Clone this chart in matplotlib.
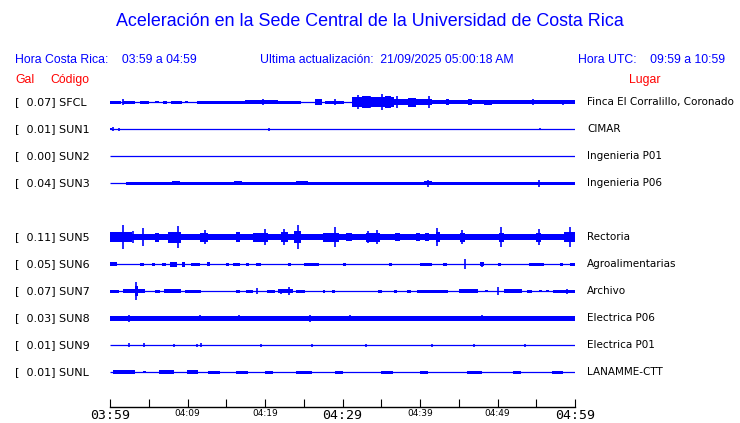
import matplotlib
matplotlib.use("Agg")
import matplotlib.pyplot as plt
import matplotlib.transforms as mtransforms
from matplotlib.patches import Rectangle

# ---- chart data (minutes after 03:59, half-amplitudes in pixels) ----
TITLE = "Aceleración en la Sede Central de la Universidad de Costa Rica"
HORA_CR = "03:59 a 04:59"
ACTUALIZACION = "21/09/2025 05:00:18 AM"
HORA_UTC = "09:59 a 10:59"

CODES = ["SFCL", "SUN1", "SUN2", "SUN3", None, "SUN5", "SUN6", "SUN7", "SUN8", "SUN9", "SUNL"]
GAL = [0.07, 0.01, 0.00, 0.04, None, 0.11, 0.05, 0.07, 0.03, 0.01, 0.01]
PLACES = ["Finca El Corralillo, Coronado", "CIMAR", "Ingenieria P01", "Ingenieria P06", None,
          "Rectoria", "Agroalimentarias", "Archivo", "Electrica P06", "Electrica P01", "LANAMME-CTT"]

TICK_MINUTES = list(range(0, 61, 5))
TICK_LABELS = {0: "03:59", 10: "04:09", 20: "04:19", 30: "04:29", 40: "04:39", 50: "04:49", 60: "04:59"}
BIG_LABELS = ["03:59", "04:29", "04:59"]

# (start_min, end_min, half_amp_px) bursts and (minute, half_amp_px) spikes
SFCL_SEGS = [(0.0, 1.4, 1.5), (1.7, 3.2, 1.5), (3.9, 5.0, 1.5), (5.8, 6.3, 1.0), (6.9, 7.4, 1.5),
             (7.9, 9.3, 1.5), (9.7, 10.0, 1.0), (11.2, 17.4, 1.5), (17.4, 21.7, 2.0), (21.7, 24.7, 1.5),
             (26.4, 27.4, 3.0), (27.8, 30.2, 1.5), (31.2, 36.7, 5.0), (32.5, 33.5, 6.0), (35.5, 36.2, 6.0),
             (36.7, 41.5, 3.0), (38.5, 39.5, 4.5), (41.5, 60.0, 2.0), (43.3, 43.8, 3.0), (46.2, 46.7, 3.0),
             (48.3, 49.3, 2.5)]
SFCL_SPIKES = [(1.7, 3), (19.8, 3), (29.0, 3), (32.0, 7), (33.5, 6), (35.1, 8), (37.0, 6),
               (41.2, 6), (54.6, 3), (58.5, 2.5)]

SUN1_SEGS = [(0.0, 0.3, 1.0)]
SUN1_SPIKES = [(0.4, 2), (1.2, 1.5), (20.5, 1.5), (55.5, 1.0)]

SUN2_SEGS = []
SUN2_SPIKES = []

SUN3_SEGS = [(2.0, 60.0, 1.5), (8.0, 9.0, 2.0), (16.0, 17.0, 2.0), (24.0, 25.5, 2.0), (40.5, 41.5, 2.0)]
SUN3_SPIKES = [(41.0, 3.5), (55.3, 3.5)]

SUN5_SEGS = [(0.0, 60.0, 3.0), (0.0, 0.6, 5), (0.6, 2.8, 5), (5.8, 6.3, 4.5), (7.5, 9.2, 5.5),
             (11.6, 12.6, 4.5), (16.3, 16.8, 5), (18.5, 20.4, 4.5), (22.0, 23.0, 5), (23.8, 24.7, 6),
             (27.5, 29.5, 4.5), (30.5, 31.2, 4), (33.0, 34.8, 4.5), (36.8, 37.4, 4), (39.5, 40.0, 4),
             (40.6, 41.2, 4), (42.0, 42.6, 5), (45.2, 45.8, 4.5), (50.2, 50.8, 4.5), (55.0, 55.6, 4.5),
             (58.6, 60.0, 5)]
SUN5_SPIKES = [(1.7, 12), (3.0, 6), (4.3, 9), (8.8, 11), (12.2, 7), (20.0, 8), (22.4, 8), (24.3, 12),
               (29.0, 10), (33.3, 6), (34.4, 7), (42.2, 9), (45.4, 7), (50.5, 10), (55.3, 8), (59.4, 10)]

SUN6_SEGS = [(0.0, 0.9, 2.0), (3.9, 4.4, 1.5), (5.4, 5.8, 1.5), (6.7, 7.2, 1.5), (7.7, 8.6, 2.5),
             (9.3, 9.7, 2.5), (10.5, 11.6, 1.5), (12.5, 12.9, 2.0), (15.0, 15.3, 1.5), (15.9, 16.8, 1.5),
             (17.6, 17.9, 1.5), (18.8, 19.5, 1.5), (23.0, 23.4, 1.5), (25.0, 27.0, 1.5), (30.0, 30.5, 1.5),
             (36.0, 36.4, 1.5), (40.0, 41.5, 1.5), (43.0, 43.5, 1.5), (47.8, 48.3, 2.0), (50.0, 50.5, 1.5),
             (54.0, 56.0, 1.5), (58.0, 58.5, 1.5), (59.3, 60.0, 1.5)]
SUN6_SPIKES = [(45.8, 5), (48.0, 2.5)]

SUN7_SEGS = [(0.0, 1.1, 1.5), (1.7, 3.2, 2.0), (3.2, 3.6, 5), (3.6, 4.5, 2), (5.8, 6.5, 1.5),
             (7.0, 9.2, 2.0), (9.7, 11.8, 1.5), (16.3, 16.8, 1.5), (17.6, 18.4, 1.5), (20.2, 21.3, 1.5),
             (21.7, 23.6, 2.0), (24.0, 25.2, 1.5), (27.5, 27.8, 1.5), (28.6, 29.0, 1.5), (34.6, 35.1, 1.5),
             (36.6, 37.0, 1.5), (38.3, 38.8, 1.5), (39.6, 43.6, 1.5), (45.0, 47.5, 2.0), (48.4, 48.8, 1.0),
             (50.8, 53.2, 1.8), (53.8, 54.4, 1.5), (55.3, 55.7, 1.0), (56.3, 56.6, 1.0), (57.2, 60.0, 1.5)]
SUN7_SPIKES = [(3.3, 9), (19.0, 3), (22.0, 2.5), (23.1, 4), (50.1, 4), (59.0, 2.5)]

SUN8_SEGS = [(0.0, 60.0, 2.5)]
SUN8_SPIKES = [(2.4, 3.5), (11.6, 3), (16.7, 3), (25.8, 3.5), (31.0, 3), (48.0, 3)]

SUN9_SEGS = []
SUN9_SPIKES = [(2.4, 2), (4.4, 2), (8.3, 1.5), (11.2, 1.5), (11.7, 2), (19.5, 1.5), (26.0, 1.5),
               (33.0, 1.5), (41.5, 1.5), (47.0, 1.5), (53.5, 1.5)]

SUNL_SEGS = [(0.4, 3.2, 1.8), (4.3, 4.7, 1.0), (6.3, 8.2, 2.0), (9.9, 11.4, 2.0), (12.7, 14.2, 1.5),
             (16.3, 17.8, 1.5), (20.0, 21.0, 1.5), (24.0, 26.0, 1.5), (29.0, 30.0, 1.5), (35.0, 36.5, 1.5),
             (40.0, 41.0, 1.5), (46.0, 48.0, 1.5), (52.0, 53.0, 1.5), (57.0, 58.5, 1.5)]
SUNL_SPIKES = []

SEGMENTS = [SFCL_SEGS, SUN1_SEGS, SUN2_SEGS, SUN3_SEGS, None, SUN5_SEGS,
            SUN6_SEGS, SUN7_SEGS, SUN8_SEGS, SUN9_SEGS, SUNL_SEGS]
SPIKES = [SFCL_SPIKES, SUN1_SPIKES, SUN2_SPIKES, SUN3_SPIKES, None, SUN5_SPIKES,
          SUN6_SPIKES, SUN7_SPIKES, SUN8_SPIKES, SUN9_SPIKES, SUNL_SPIKES]

ROW_PX = 27.0  # vertical spacing between traces in pixels
BLUE = "#0000ff"
W, H = 740, 423

fig = plt.figure(figsize=(W / 100, H / 100), dpi=100)
fig.patch.set_facecolor("white")


def fx(px):
    return px / W


def fy(py):
    return 1 - py / H


sans = "Liberation Sans"
fig.text(0.5, fy(22), TITLE, ha="center", va="center", color=BLUE, fontsize=12.9, family=sans)
fig.text(fx(15), fy(60), "Hora Costa Rica:    " + HORA_CR, ha="left", va="center", color=BLUE,
         fontsize=8.8, family=sans)
fig.text(fx(260), fy(60), "Ultima actualización:  " + ACTUALIZACION, ha="left", va="center",
         color=BLUE, fontsize=8.8, family=sans)
fig.text(fx(725), fy(60), "Hora UTC:    " + HORA_UTC, ha="right", va="center", color=BLUE,
         fontsize=8.8, family=sans)
fig.text(fx(15), fy(80), "Gal", ha="left", va="center", color="red", fontsize=8.8, family=sans)
fig.text(fx(50), fy(80), "Código", ha="left", va="center", color="red", fontsize=8.8, family=sans)
fig.text(fx(660), fy(80), "Lugar", ha="right", va="center", color="red", fontsize=8.8, family=sans)

# trace axes: 03:59 .. 04:59 spans x 110..575 px, bottom line at y 407
top_px, bot_px, row0_px = 88, 407, 102
ax = fig.add_axes([fx(110), fy(bot_px), fx(575 - 110), (bot_px - top_px) / H])
ax.set_xlim(0, 60)
ax.set_ylim((bot_px - row0_px) / ROW_PX, (top_px - row0_px) / ROW_PX)
ax.patch.set_alpha(0)
for s in ("top", "left", "right"):
    ax.spines[s].set_visible(False)
ax.spines["bottom"].set_linewidth(1.0)
ax.set_yticks([])
ax.set_xticks(TICK_MINUTES)
ax.set_xticklabels([TICK_LABELS.get(m, "") for m in TICK_MINUTES])
ax.tick_params(axis="x", direction="in", length=5.5, width=0.8, pad=1.5)
for lab in ax.get_xticklabels():
    big = lab.get_text() in BIG_LABELS
    lab.set_fontsize(9.5 if big else 6.5)
    lab.set_family("DejaVu Sans Mono" if big else "DejaVu Sans")

lab_tr = mtransforms.blended_transform_factory(fig.transFigure, ax.transData)

for row, code in enumerate(CODES):
    if code is None:
        continue
    ax.plot([TICK_MINUTES[0], TICK_MINUTES[-1]], [row, row], color=BLUE, lw=0.9,
            solid_capstyle="butt")
    for s, e, a in SEGMENTS[row]:
        h = a / ROW_PX
        ax.add_patch(Rectangle((s, row - h), e - s, 2 * h, facecolor=BLUE, edgecolor="none"))
    for m, a in SPIKES[row]:
        h = a / ROW_PX
        ax.vlines(m, row - h, row + h, color=BLUE, lw=1.2)
    ax.text(fx(15), row, "[  %.2f] %s" % (GAL[row], code), transform=lab_tr, ha="left",
            va="center", fontsize=8, family="DejaVu Sans")
    ax.text(fx(587), row, PLACES[row], transform=lab_tr, ha="left", va="center",
            fontsize=7.5, family="DejaVu Sans")

fig.savefig("out.png", dpi=100)
